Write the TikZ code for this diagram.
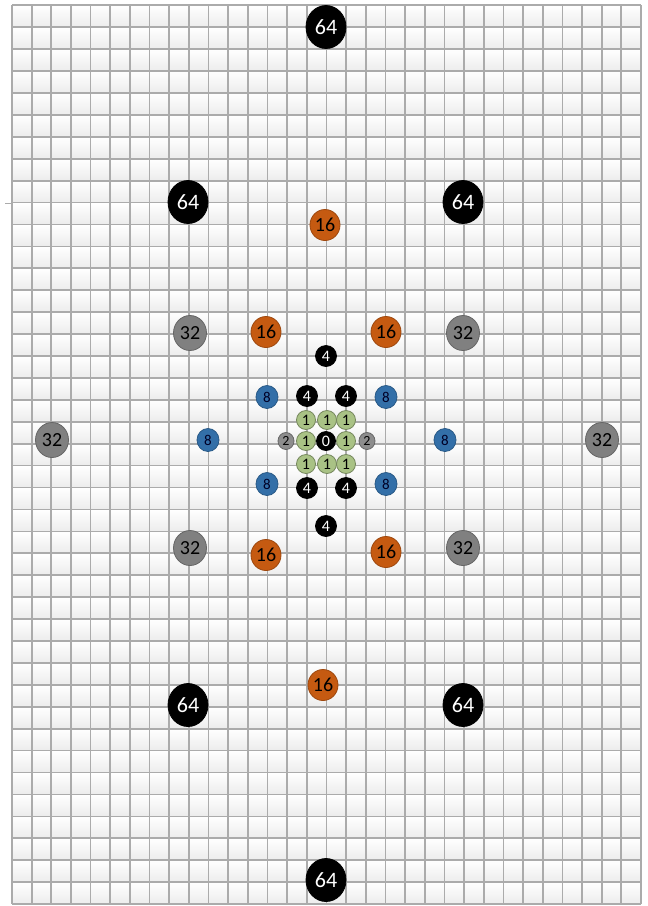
\documentclass[tikz,border=0pt]{standalone}
\usepackage{fontspec}
\setmainfont{Carlito}
\usetikzlibrary{shapes.geometric}

\definecolor{gridline}{HTML}{ABABAB}
\definecolor{cellgray}{HTML}{ECECEC}
\definecolor{discorange}{HTML}{C55A11}
\definecolor{discblue}{HTML}{336FA8}
\definecolor{discgreen}{HTML}{A9C285}
\definecolor{discgray}{HTML}{808080}

\tikzset{
  disc/.style={ellipse, draw, line width=0.8pt, inner sep=0pt},
  disc64/.style={disc, fill=black, draw=black, text=white,
    minimum width=40pt, minimum height=43pt, font=\fontsize{22}{22}\selectfont},
  disc32/.style={disc, fill=discgray, draw=discgray!80!black, text=black,
    minimum width=33pt, minimum height=35pt, font=\fontsize{20}{20}\selectfont},
  disc16/.style={disc, fill=discorange, draw=discorange!80!black, text=black,
    minimum width=30pt, minimum height=31pt, font=\fontsize{20}{20}\selectfont},
  disc8/.style={disc, fill=discblue, draw=discblue!80!black, text=black!85!blue,
    minimum width=22pt, minimum height=23pt, font=\fontsize{15}{15}\selectfont},
  disc4/.style={disc, fill=black, draw=black, text=white,
    minimum width=21pt, minimum height=21pt, font=\fontsize{16}{16}\selectfont},
  disc2/.style={disc, fill=discgray!90!white, draw=discgray!80!black, text=black,
    minimum width=16pt, minimum height=17pt, font=\fontsize{14}{14}\selectfont},
  disc1/.style={disc, fill=discgreen, draw=discgreen!70!black, text=black,
    minimum width=19pt, minimum height=19pt, font=\fontsize{16}{16}\selectfont},
  disc0/.style={disc, fill=black, draw=black, text=white,
    minimum width=19pt, minimum height=19pt, font=\fontsize{16}{16}\selectfont},
}

\begin{document}
\begin{tikzpicture}[x=1pt,y=-1pt]
  \useasboundingbox (0,0) rectangle (648,906);

  % sheet
  \foreach \r in {0,...,40}
    \shade[top color=white,bottom color=cellgray] (12,5.3+\r*21.92) rectangle +(629,21.92);
  \foreach \c in {0,...,32}
    \draw[gridline,line width=1.7pt] (12+\c*19.656,5.3) -- ++(0,898.7);
  \foreach \r in {0,...,41}
    \draw[gridline,line width=1.7pt] (12,5.3+\r*21.92) -- ++(629,0);
  \draw[gridline,line width=0.8pt] (5,203) -- (11,203);

  % 64
  \node[disc64] (sf-t)  at (326,27)  {64};
  \node[disc64] (sf-ul) at (188,202) {64};
  \node[disc64] (sf-ur) at (463,202) {64};
  \node[disc64] (sf-ll) at (188,705) {64};
  \node[disc64] (sf-lr) at (463,705) {64};
  \node[disc64] (sf-b)  at (326,880) {64};

  % 32
  \node[disc32] (tt-ul) at (190,333) {32};
  \node[disc32] (tt-ur) at (463,333) {32};
  \node[disc32] (tt-l)  at (52,440)  {32};
  \node[disc32] (tt-r)  at (602,440) {32};
  \node[disc32] (tt-ll) at (190,548) {32};
  \node[disc32] (tt-lr) at (463,548) {32};

  % 16
  \node[disc16] (st-t)  at (325,225) {16};
  \node[disc16] (st-ul) at (266,332) {16};
  \node[disc16] (st-ur) at (386,332) {16};
  \node[disc16] (st-ll) at (266,555) {16};
  \node[disc16] (st-lr) at (386,552) {16};
  \node[disc16] (st-b)  at (323,685) {16};

  % 8
  \node[disc8] (ei-ul) at (267,397) {8};
  \node[disc8] (ei-ur) at (386,397) {8};
  \node[disc8] (ei-l)  at (208,440) {8};
  \node[disc8] (ei-r)  at (445,440) {8};
  \node[disc8] (ei-ll) at (267,484) {8};
  \node[disc8] (ei-lr) at (386,484) {8};

  % 4
  \node[disc4] (fo-t)  at (326,356) {4};
  \node[disc4] (fo-ul) at (307,396) {4};
  \node[disc4] (fo-ur) at (346,396) {4};
  \node[disc4] (fo-ll) at (307,488) {4};
  \node[disc4] (fo-lr) at (346,488) {4};
  \node[disc4] (fo-b)  at (326,526) {4};

  % 2, 1, 0
  \node[disc2] (tw-l) at (286,441) {2};
  \node[disc2] (tw-r) at (367,441) {2};
  \node[disc1] (on-ul) at (306,420) {1};
  \node[disc1] (on-u)  at (327,420) {1};
  \node[disc1] (on-ur) at (346,420) {1};
  \node[disc1] (on-l)  at (306,441) {1};
  \node[disc1] (on-r)  at (346,441) {1};
  \node[disc1] (on-ll) at (306,464) {1};
  \node[disc1] (on-d)  at (327,464) {1};
  \node[disc1] (on-lr) at (346,464) {1};
  \node[disc0] (zero)  at (326,441) {0};
\end{tikzpicture}
\end{document}
